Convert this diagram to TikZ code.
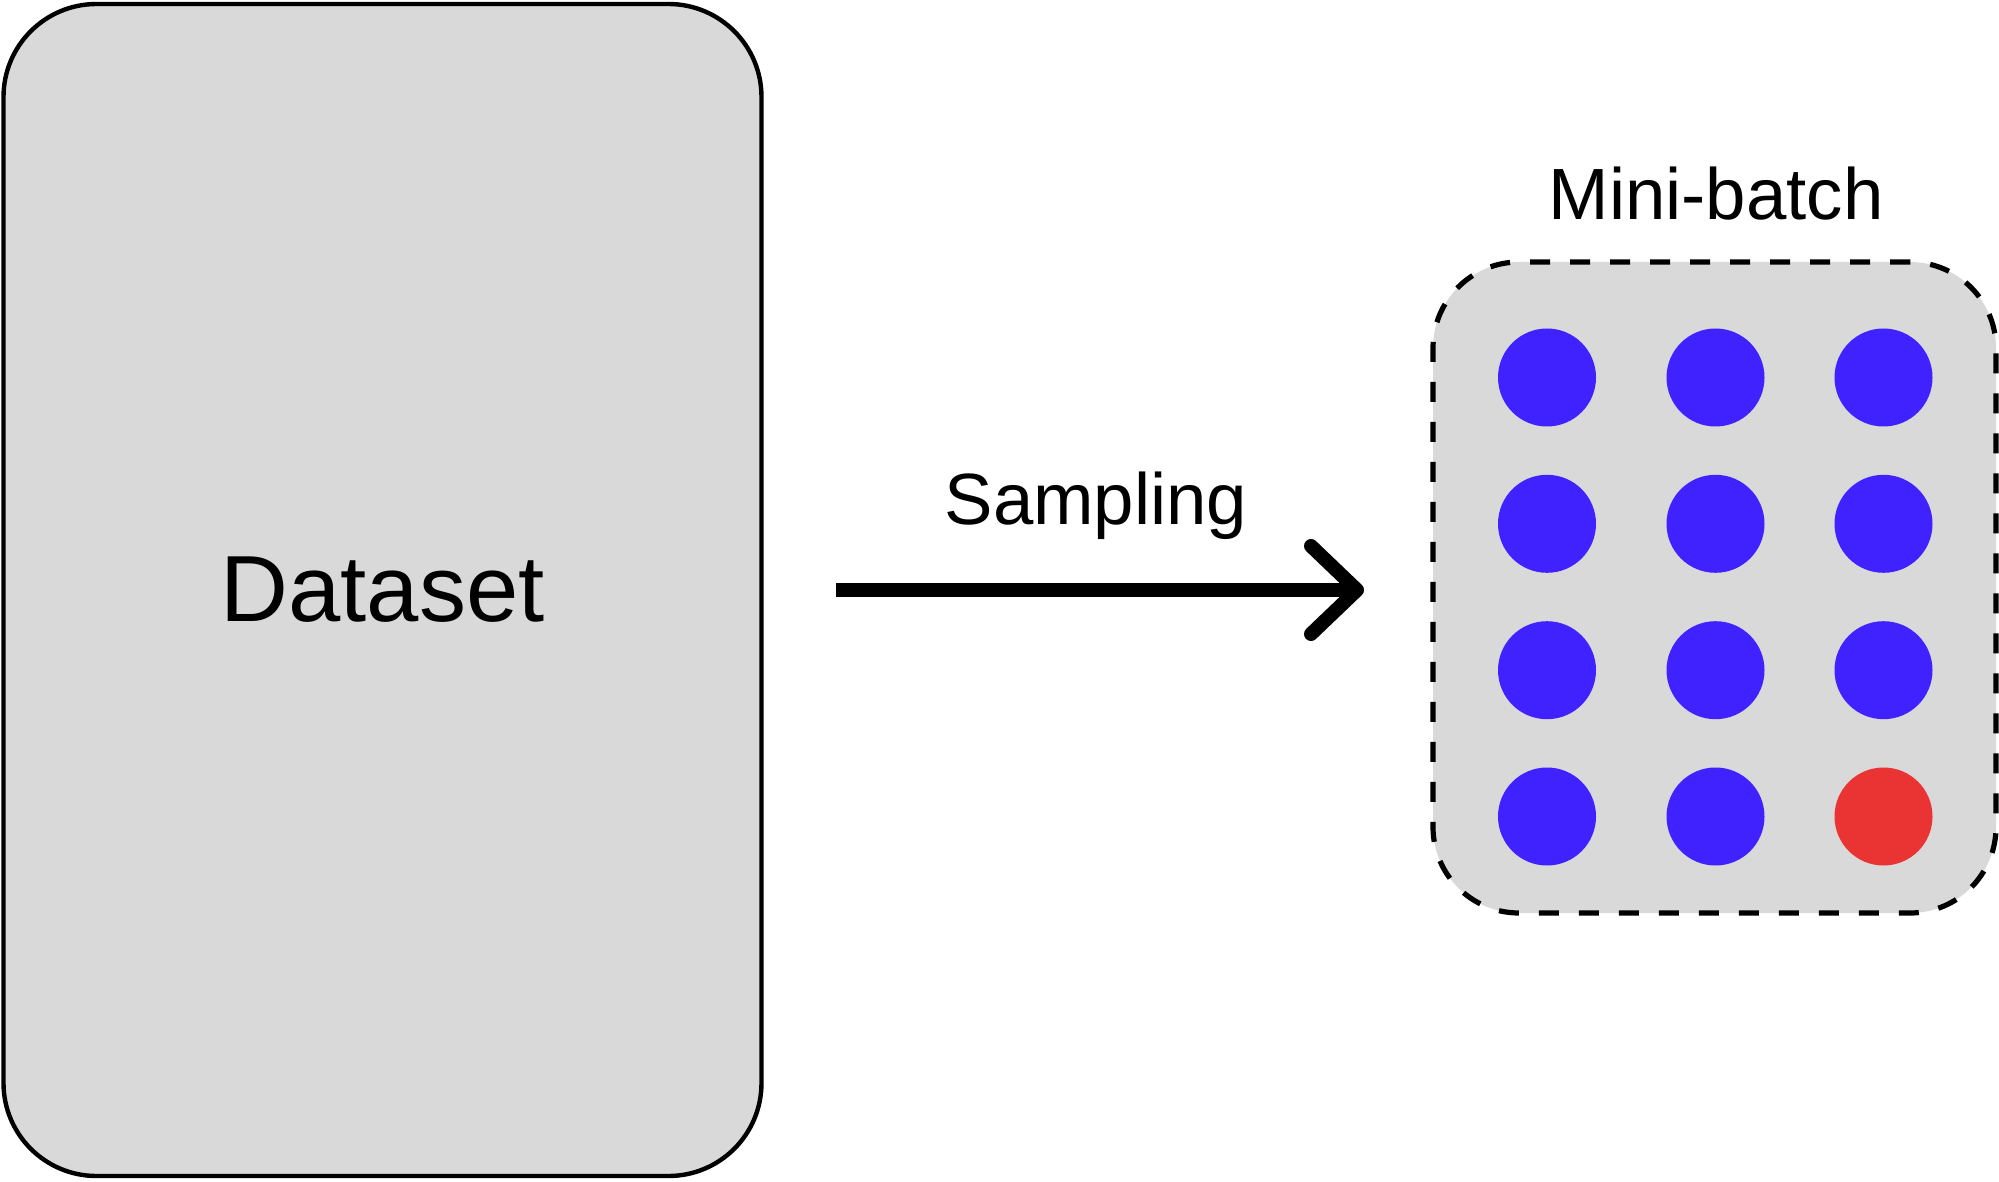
\documentclass[tikz,border=0pt]{standalone}
\usepackage{fontspec}
\setmainfont{Liberation Sans}
\usetikzlibrary{arrows.meta}
\definecolor{boxgray}{HTML}{D9D9D9}
\definecolor{dotblue}{HTML}{3F22FF}
\definecolor{dotred}{HTML}{EA3434}
\tikzset{
  databox/.style={draw=black, fill=boxgray, line width=2.2pt, rounded corners=46.5pt,
    minimum width=379pt, minimum height=586pt, inner sep=0pt,
    font=\fontsize{47}{56}\selectfont},
  batchbox/.style={draw=black, fill=boxgray, line width=2.6pt, rounded corners=43pt,
    dash pattern=on 10pt off 10pt, minimum width=281.5pt, minimum height=325.5pt, inner sep=0pt},
  dot/.style={circle, fill=#1, draw=none, minimum size=49pt, inner sep=0pt},
  lbl/.style={font=\fontsize{36.3}{44}\selectfont, inner sep=0pt, anchor=base},
  flow/.style={line width=7pt, -{Straight Barb[length=23pt, width=44pt, round]}}
}
\begin{document}
\begin{tikzpicture}[x=0.5pt, y=-0.5pt]
\useasboundingbox (0,0) rectangle (1999,1182);
\node[databox] (dataset) at (382.5,590) {Dataset};
\node[batchbox] (batch) at (1714.5,587.5) {};
\node[lbl] (batchlbl) at (1716,220) {Mini-batch};
\node[lbl] (samplbl) at (1096,524) {Sampling};
\foreach \r/\y in {1/377.5,2/523.8,3/670.2} {
  \foreach \c/\x in {1/1547,2/1715.5,3/1883.5} {
    \node[dot=dotblue] (d\r\c) at (\x,\y) {};
  }
}
\node[dot=dotblue] (d41) at (1547,816.5) {};
\node[dot=dotblue] (d42) at (1715.5,816.5) {};
\node[dot=dotred] (d43) at (1883.5,816.5) {};
\coordinate (arrs) at (836,590);
\coordinate (arre) at (1364,590);
\draw[flow] (arrs) -- (arre);
\end{tikzpicture}
\end{document}
